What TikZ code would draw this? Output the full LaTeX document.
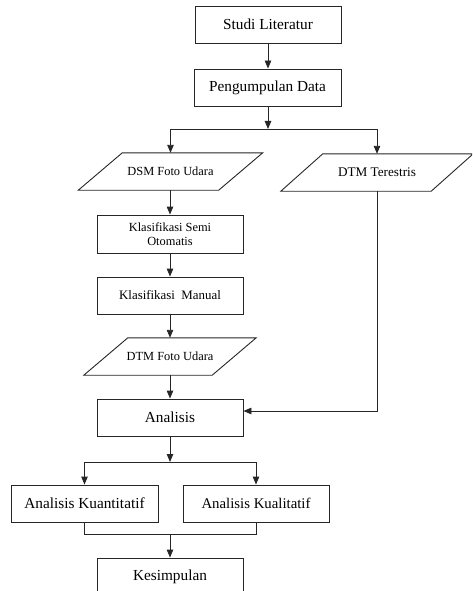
\documentclass[tikz,border=0pt]{standalone}
\usepackage{fontspec}
\setmainfont{Liberation Serif}
\usetikzlibrary{arrows.meta}
\begin{document}
\begin{tikzpicture}[x=1pt,y=-1pt,
  line/.style={draw=black!85,line width=0.9pt},
  arr/.style={line,-{Triangle[length=8pt,width=6.5pt]}},
  bigbox/.style={line,minimum width=146pt,minimum height=37pt,inner sep=0pt,font=\fontsize{15.3}{18}\selectfont},
  smallbox/.style={line,minimum width=146pt,minimum height=37pt,inner sep=0pt,font=\fontsize{12.4}{14}\selectfont},
  paratext/.style={minimum height=37pt,inner sep=0pt,font=\fontsize{12.4}{15}\selectfont},
]
\useasboundingbox (0,0) rectangle (472,591);
\clip (0,0) rectangle (472,591);
\node[bigbox] (sl) at (268,24.5) {Studi Literatur};
\node[bigbox, minimum width=147pt] (pd) at (267.5,87.5) {Pengumpulan Data};
\node[paratext, minimum width=140pt] (dsm) at (170.5,171.5) {DSM Foto Udara};
\node[paratext, minimum width=150pt, font=\fontsize{13.2}{15}\selectfont] (dtmt) at (377,172.5) {DTM Terestris};
\node[smallbox, align=center, minimum height=38pt] (ksm) at (170,234) {Klasifikasi Semi\\Otomatis};
\node[smallbox, font=\fontsize{12.9}{15}\selectfont] (km) at (170,295.5) {Klasifikasi\ \ Manual};
\node[paratext, minimum width=128pt] (dtmf) at (170,356.5) {DTM Foto Udara};
\node[bigbox] (an) at (170,417.5) {Analisis};
\node[bigbox, minimum width=147pt] (ak) at (84.5,503.5) {Analisis Kuantitatif};
\node[bigbox, font=\fontsize{14.8}{18}\selectfont] (akl) at (256,503.5) {Analisis Kualitatif};
\node[bigbox] (ks) at (170,576.5) {Kesimpulan};
\foreach \n/\s in {dsm/22,dtmt/21,dtmf/22}
  \draw[line] ([xshift=-\s pt]\n.south west) -- ([xshift=-\s pt]\n.south east)
     -- ([xshift=\s pt]\n.north east) -- ([xshift=\s pt]\n.north west) -- cycle;
\coordinate (j1) at (268,129);
\coordinate (j2) at (170,462);
\coordinate (j3) at (170,534);
\draw[arr] (sl.south) -- (sl.south |- pd.north);
\draw[arr] (pd.south -| sl.south) -- (j1);
\draw[arr] (j1) -| (dsm.north);
\draw[arr] (j1) -| (dtmt.north);
\draw[arr] (dsm.south -| ksm.north) -- (ksm.north);
\draw[arr] (ksm) -- (km);
\draw[arr] (km) -- (dtmf);
\draw[arr] (dtmf) -- (an);
\draw[arr] (dtmt.south) |- ([yshift=6.5pt]an.east);
\draw[arr] (an.south) -- (j2);
\draw[arr] (j2) -| (ak.north);
\draw[arr] (j2) -| (akl.north);
\draw[line] (ak.south) |- (j3);
\draw[line] (akl.south) |- (j3);
\draw[arr] (j3) -- (ks.north);
\end{tikzpicture}
\end{document}
